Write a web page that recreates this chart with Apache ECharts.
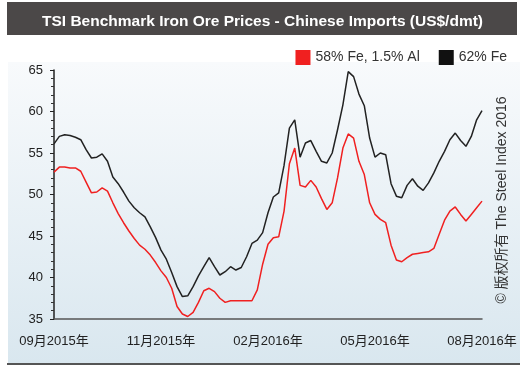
<!DOCTYPE html>
<html>
<head>
<meta charset="utf-8">
<script src="https://cdn.jsdelivr.net/npm/echarts@6/dist/echarts.min.js"></script>
<style>
  html, body { margin: 0; padding: 0; background: #fff; }
  #chart { width: 525px; height: 376px; }
</style>
</head>
<body>
<div id="chart"></div>
<script>
// weekly-ish samples
const xTickLabels = ['09月2015年', '11月2015年', '02月2016年', '05月2016年', '08月2016年']
const fe58 = [
  52.7, 53.3, 53.3, 53.2, 53.2, 52.8, 51.5, 50.2, 50.3, 50.8,
  50.4, 49.0, 47.7, 46.6, 45.6, 44.7, 43.9, 43.4, 42.7, 41.8,
  40.8, 40.0, 38.7, 36.5, 35.6, 35.3, 35.8, 37.0, 38.4, 38.7,
  38.3, 37.5, 37.0, 37.2, 37.2, 37.2, 37.2, 37.2, 38.5, 41.6,
  44.0, 44.8, 44.9, 48.0, 53.7, 55.6, 51.1, 50.9, 51.7, 50.9,
  49.5, 48.2, 49.0, 52.0, 55.6, 57.3, 56.8, 54.0, 52.4, 49.0,
  47.6, 47.0, 46.6, 43.9, 42.1, 41.9, 42.4, 42.8, 42.9, 43.0,
  43.1, 43.5, 45.2, 46.9, 48.0, 48.5, 47.6, 46.8, 47.6, 48.4,
  49.2
]
const fe62 = [
  56.1, 57.0, 57.2, 57.1, 56.9, 56.6, 55.4, 54.4, 54.5, 54.9,
  54.0, 52.1, 51.3, 50.3, 49.2, 48.4, 47.8, 47.3, 46.1, 44.8,
  43.3, 42.2, 40.6, 38.9, 37.7, 37.8, 38.9, 40.2, 41.3, 42.4,
  41.3, 40.3, 40.7, 41.3, 40.9, 41.2, 42.5, 44.1, 44.5, 45.4,
  47.8, 49.7, 50.2, 53.5, 58.0, 59.0, 54.5, 56.2, 56.5, 55.2,
  54.0, 53.8, 55.0, 57.8, 60.8, 64.8, 64.2, 62.1, 60.7, 56.8,
  54.5, 55.0, 54.8, 51.3, 49.8, 49.6, 51.1, 51.9, 51.0, 50.5,
  51.4, 52.6, 54.0, 55.2, 56.6, 57.4, 56.5, 55.8, 57.0, 59.0,
  60.1
]
const labelStep = 20
const categories = fe62.map((_, i) => i)

const chart = echarts.init(document.getElementById('chart'))
chart.setOption({
  animation: false,
  textStyle: { fontFamily: 'Arial, "Liberation Sans", "Noto Sans CJK SC"' },
  title: {
    text: 'TSI Benchmark Iron Ore Prices - Chinese Imports (US$/dmt)',
    left: 'center',
    top: 9,
    textStyle: { color: '#fff', fontSize: 15.5, fontWeight: 'bold' },
  },
  graphic: [
    {
      type: 'rect', z: -1,
      shape: { x: 7, y: 2, width: 510, height: 33 },
      style: { fill: '#4b4848' },
    },
    {
      type: 'rect', z: -1,
      shape: { x: 8, y: 62, width: 512, height: 302 },
      style: {
        fill: new echarts.graphic.LinearGradient(0, 0, 0, 1, [
          { offset: 0, color: '#f8fafc' },
          { offset: 1, color: '#d9e7ef' },
        ]),
      },
    },
    {
      type: 'line', z: -1,
      shape: { x1: 7, y1: 364, x2: 520, y2: 364 },
      style: { stroke: '#555', lineWidth: 2 },
    },
    {
      type: 'text',
      x: 502, y: 200, rotation: Math.PI / 2,
      style: {
        text: '© 版权所有 The Steel Index 2016',
        fill: '#333', fontSize: 14,
        fontFamily: 'Arial, "Noto Sans CJK SC"',
        align: 'center', verticalAlign: 'middle',
      },
    },
  ],
  legend: {
    right: 13,
    top: 45,
    icon: 'rect',
    itemWidth: 15,
    itemHeight: 15,
    itemGap: 19,
    textStyle: { fontSize: 14, color: '#333' },
    data: ['58% Fe, 1.5% Al', '62% Fe'],
  },
  grid: { left: 54, right: 43, top: 70, bottom: 57 },
  xAxis: {
    type: 'category',
    boundaryGap: false,
    data: categories,
    axisLine: { lineStyle: { color: '#555', width: 1.5 } },
    axisTick: { show: false },
    axisLabel: {
      interval: labelStep - 1,
      margin: 16,
      fontSize: 13,
      color: '#222',
      formatter: (v, i) => xTickLabels[i / labelStep] || '',
    },
    splitLine: { show: false },
  },
  yAxis: {
    type: 'value',
    min: 35,
    max: 65,
    interval: 5,
    axisLine: { show: true, lineStyle: { color: '#222', width: 1.5 } },
    axisTick: { show: true, length: 4, lineStyle: { color: '#222', width: 1 } },
    minorTick: { show: true, splitNumber: 5, length: 3, lineStyle: { color: '#333', width: 1 } },
    axisLabel: { fontSize: 13, color: '#222', margin: 11 },
    splitLine: { show: false },
  },
  series: [
    {
      name: '58% Fe, 1.5% Al',
      type: 'line',
      data: fe58,
      showSymbol: false,
      itemStyle: { color: '#f02020' },
      lineStyle: { color: '#f02020', width: 1.5 },
    },
    {
      name: '62% Fe',
      type: 'line',
      data: fe62,
      showSymbol: false,
      itemStyle: { color: '#111' },
      lineStyle: { color: '#222', width: 1.5 },
    },
  ],
})
</script>
</body>
</html>
